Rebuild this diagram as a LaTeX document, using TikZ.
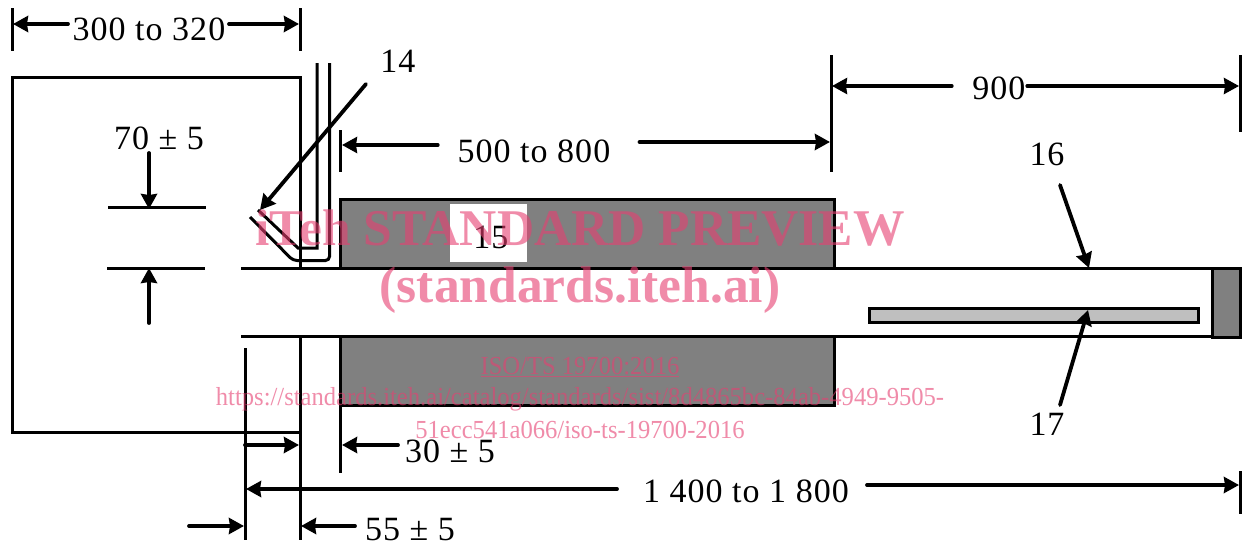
\documentclass[tikz,border=0pt]{standalone}
\usepackage{fontspec}
\setmainfont{Liberation Serif}
\newfontfamily\dimfont[LetterSpace=3]{Liberation Serif}
\newfontfamily\wmsfont[FakeStretch=0.946]{Liberation Serif}
\usetikzlibrary{arrows.meta}
\definecolor{wm}{RGB}{230,63,113}
\tikzset{
  x=1pt,y=-1pt,
  ln/.style={draw=black,line width=3pt},
  arr/.style={draw=black,line width=3.8pt,line cap=round,-{Triangle[length=15pt,width=16pt,inset=1pt]}},
  arrthick/.style={arr,line width=4.8pt},
  arrthin/.style={arr,line width=3.2pt},
  lbl/.style={font=\fontsize{34}{38}\selectfont\dimfont,text=black,inner sep=0pt},
  wmb/.style={font=\fontsize{51.5}{56}\selectfont\bfseries,text=wm,text opacity=0.6,inner sep=0pt},
  wms/.style={font=\fontsize{26}{30}\selectfont\wmsfont,text=wm,text opacity=0.6,inner sep=0pt},
  solidblock/.style={draw=black,line width=3pt,inner sep=0pt,outer sep=0pt,anchor=north west},
}
\begin{document}
\begin{tikzpicture}
\useasboundingbox (0,0) rectangle (1248,546);
\fill[white] (0,0) rectangle (1248,546);
% chamber box
\coordinate (boxTL) at (12,77); \coordinate (boxTR) at (300,77);
\coordinate (boxBL) at (12,432); \coordinate (boxBR) at (300,432);
\draw[ln,line join=miter] (boxBR) -- (boxBL) -- (boxTL) -- (boxTR) -- (boxBR);
% blocks
\node[solidblock,fill=black!50,minimum width=493.5pt,minimum height=69pt] (blockT) at (340.5,199) {};
\node[solidblock,fill=black!50,minimum width=493.5pt,minimum height=69pt] (blockB) at (340.5,336) {};
\fill[white] (450,204) rectangle (527,262);
% tube
\coordinate (tubeTL) at (241,268); \coordinate (tubeTR) at (1240,268);
\coordinate (tubeBL) at (241,336); \coordinate (tubeBR) at (1240,336);
\fill[white] (241,269) rectangle (1212,335);
\draw[ln] (tubeTL) -- (tubeTR);
\draw[ln] (tubeBL) -- (tubeBR);
\coordinate (wallB) at (300,336); \coordinate (wallC) at (300,540);
\draw[ln] (wallB) -- (wallC);
\node[solidblock,fill=black!50,minimum width=28pt,minimum height=69pt] (cap) at (1212,268) {};
\node[solidblock,fill=black!25,minimum width=329pt,minimum height=14pt] (rod) at (869,308) {};
% thermocouple 14
\coordinate (a1) at (317,63); \coordinate (a2) at (317,248); \coordinate (a3) at (298,248); \coordinate (a4) at (258,210);
\coordinate (b1) at (329.5,63); \coordinate (b2) at (329.5,260.5); \coordinate (b3) at (293,260.5); \coordinate (b4) at (250,217);
\draw[ln] (a1) -- (a2) -- (a3) -- (a4);
\draw[ln,rounded corners=4pt] (b1) -- (b2) -- (b3) -- (b4);
% dimension extension lines
\coordinate (e1a) at (12,8); \coordinate (e1b) at (12,51);
\coordinate (e2a) at (300,8); \coordinate (e2b) at (300,51);
\draw[ln] (e1a) -- (e1b); \draw[ln] (e2a) -- (e2b);
\coordinate (e3a) at (340.5,130); \coordinate (e3b) at (340.5,172); \draw[ln] (e3a) -- (e3b);
\coordinate (e4a) at (831,55); \coordinate (e4b) at (831,172); \draw[ln] (e4a) -- (e4b);
\coordinate (e5a) at (1240,55); \coordinate (e5b) at (1240,132); \draw[ln] (e5a) -- (e5b);
\coordinate (e6a) at (340.5,336); \coordinate (e6b) at (340.5,473); \draw[ln] (e6a) -- (e6b);
\coordinate (e7a) at (245,348); \coordinate (e7b) at (245,540); \draw[ln] (e7a) -- (e7b);
\coordinate (e8a) at (1240,471); \coordinate (e8b) at (1240,514); \draw[ln] (e8a) -- (e8b);
\coordinate (t1a) at (108,207); \coordinate (t1b) at (206,207); \draw[ln] (t1a) -- (t1b);
\coordinate (t2a) at (107,268); \coordinate (t2b) at (205,268); \draw[ln] (t2a) -- (t2b);
% arrows
\draw[arr] (68,24) -- (13,24);
\draw[arr] (229,24) -- (299,24);
\draw[arrthin] (438,145) -- (342,145);
\draw[arrthick] (640,142) -- (830,142);
\draw[arrthin] (952,86) -- (832,86);
\draw[arrthin] (1027,86) -- (1239,86);
\draw[arr] (149,153) -- (149,209);
\draw[arr] (149,323) -- (149,268);
\draw[arr] (366,84) -- (260,210);
\draw[arr] (1060,185) -- (1089,268);
\draw[arr] (1060,405) -- (1088,310);
\draw[arr] (398,445) -- (342,445);
\draw[arr] (245,445) -- (299,445);
\draw[arr] (617,489) -- (246,489);
\draw[arr] (867,485) -- (1239,485);
\draw[arr] (189,526) -- (244,526);
\draw[arr] (355,526) -- (301,526);
% labels
\node[lbl] (l1) at (149,29) {300 to 320};
\node[lbl] (l2) at (398,61) {14};
\node[lbl] (l3) at (159,138) {70 ± 5};
\node[lbl] (l4) at (534,151) {500 to 800};
\node[lbl] (l5) at (999,88) {900};
\node[lbl] (l6) at (1047,154) {16};
\node[lbl] (l7) at (491,237) {15};
\node[lbl] (l8) at (1047,424) {17};
\node[lbl] (l9) at (450,451) {30 ± 5};
\node[lbl] (l10) at (746,491) {1 400 to 1 800};
\node[lbl] (l11) at (410,530) {55 ± 5};
% watermark
\node[wmb] (w1) at (580,228) {iTeh STANDARD PREVIEW};
\node[wmb] (w2) at (580,290) {(standards.iteh.ai)};
\node[wms] (w3) at (580,367) {\underline{ISO/TS 19700:2016}};
\node[wms] (w4) at (580,399) {https://standards.iteh.ai/catalog/standards/sist/8d4865bc-84ab-4949-9505-};
\node[wms] (w5) at (580,430) {51ecc541a066/iso-ts-19700-2016};
\end{tikzpicture}
\end{document}
